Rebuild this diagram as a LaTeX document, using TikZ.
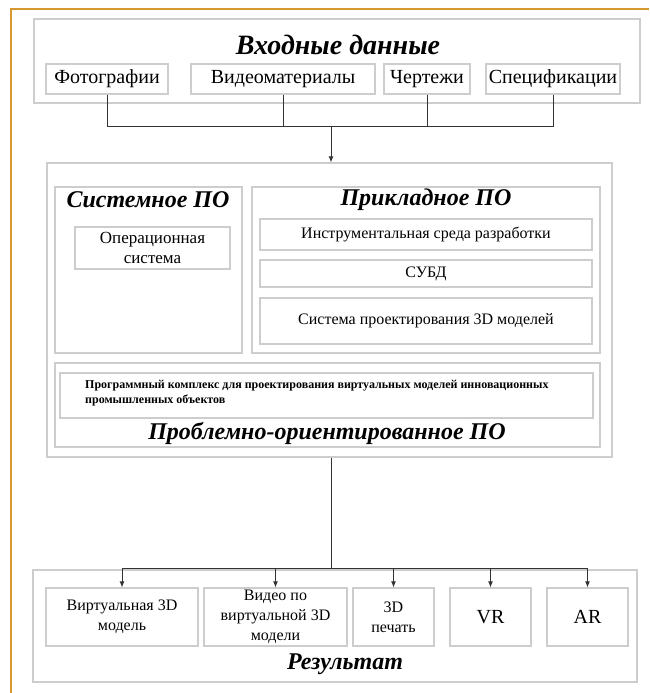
\documentclass[tikz,border=0pt]{standalone}
\usepackage{fontspec}
\setmainfont{Liberation Serif}
\usetikzlibrary{arrows.meta}
\definecolor{frameor}{RGB}{214,152,48}
\definecolor{boxgray}{RGB}{205,205,205}
\begin{document}
\begin{tikzpicture}[x=1pt,y=-1pt,
  bx/.style={draw=boxgray, line width=1.2pt, inner sep=0pt, align=center,
    font=\fontsize{16}{20}\selectfont},
  inbx/.style={bx, font=\fontsize{20}{22}\selectfont},
  ttl/.style={font=\fontsize{24}{28}\selectfont\bfseries\itshape, inner sep=0pt},
  conn/.style={draw=black!80, line width=0.9pt},
  arr/.style={conn, -{Latex[length=6pt,width=5pt]}}]
\useasboundingbox (0,0) rectangle (649,693);
\fill[white] (0,0) rectangle (649,693);
\draw[frameor, line width=2pt] (11,693) -- (11,9) -- (649,9);

% input block
\node[bx, minimum width=606, minimum height=84] (inbox) at (337,61) {};
\node[ttl, font=\fontsize{28}{30}\selectfont\bfseries\itshape] (intitle) at (338,45) {Входные данные};
\node[inbx, minimum width=122, minimum height=30] (foto) at (107,79) {Фотографии};
\node[inbx, minimum width=184, minimum height=30] (video) at (283,79) {Видеоматериалы};
\node[inbx, minimum width=86, minimum height=30] (chert) at (427,79) {Чертежи};
\node[inbx, minimum width=134, minimum height=30] (spec) at (553,79) {Спецификации};
\coordinate (jn) at (331,126);

% middle block
\node[bx, minimum width=565, minimum height=294] (mid) at (329.5,310) {};
\node[bx, minimum width=187, minimum height=166] (sys) at (148.5,270) {};
\node[ttl] (systitle) at (148,200) {Системное ПО};
\node[bx, minimum width=155, minimum height=42, font=\fontsize{17}{20}\selectfont] (os) at (152.5,248) {Операционная\\система};
\node[bx, minimum width=348, minimum height=166] (app) at (426,270) {};
\node[ttl] (apptitle) at (426,200) {Прикладное ПО};
\node[bx, minimum width=332, minimum height=31] (instr) at (426,234.5) {Инструментальная среда разработки};
\node[bx, minimum width=332, minimum height=27] (subd) at (426,273.5) {СУБД};
\node[bx, minimum width=332, minimum height=46] (sapr) at (426,321) {Система проектирования 3D моделей};
\node[bx, minimum width=545, minimum height=84] (prob) at (327.5,405) {};
\node[bx, minimum width=533, minimum height=45] (prog) at (326.5,395.5) {};
\node[anchor=west, inner sep=0pt, align=left, font=\fontsize{12}{15}\selectfont\bfseries] (progtext) at (85,393)
  {Программный комплекс для проектирования виртуальных моделей инновационных\\промышленных объектов};
\node[ttl] (probtitle) at (327,433) {Проблемно-ориентированное ПО};

% result block
\node[bx, minimum width=604, minimum height=112] (res) at (335,626) {};
\node[bx, minimum width=152, minimum height=58] (r1) at (122,617) {Виртуальная 3D\\модель};
\node[bx, minimum width=143, minimum height=58] (r2) at (275.5,617) {Видео по\\виртуальной 3D\\модели};
\node[bx, minimum width=81, minimum height=58] (r3) at (393.5,617) {3D\\печать};
\node[bx, minimum width=81, minimum height=58, font=\fontsize{20}{22}\selectfont] (r4) at (490.5,617) {VR};
\node[bx, minimum width=81, minimum height=58, font=\fontsize{20}{22}\selectfont] (r5) at (587.5,617) {AR};
\node[ttl, font=\fontsize{24}{26}\selectfont\bfseries\itshape] (restitle) at (345,664) {Результат};
\coordinate (jb) at (331,568);

% connectors
\draw[conn] (foto.south) |- (jn);
\draw[conn] (video.south) |- (jn);
\draw[conn] (chert.south) |- (jn);
\draw[conn] (spec.south) |- (jn);
\draw[arr] (jn) -- (jn |- mid.north);
\draw[conn] (jb |- mid.south) -- (jb);
\draw[arr] (jb) -| (r1.north);
\draw[arr] (jb) -| (r2.north);
\draw[arr] (jb) -| (r3.north);
\draw[arr] (jb) -| (r4.north);
\draw[arr] (jb) -| (r5.north);
\end{tikzpicture}
\end{document}
